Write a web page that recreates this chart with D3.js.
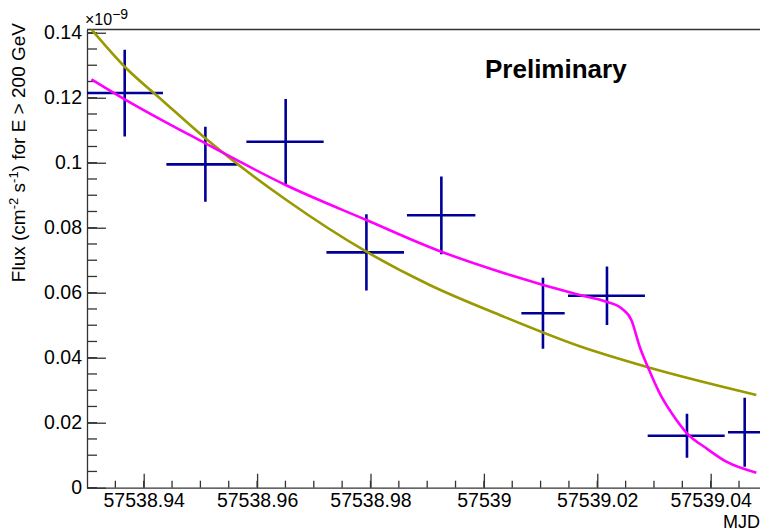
<!DOCTYPE html>
<html>
<head>
<meta charset="utf-8">
<script src="https://cdn.jsdelivr.net/npm/d3@7"></script>
<style>
  html, body { margin: 0; padding: 0; background: #fff; }
  svg { display: block; }
  text { font-family: "Liberation Sans", Arial, Helvetica, sans-serif; fill: #000; }
</style>
</head>
<body>
<svg id="chart" width="760" height="531"></svg>
<script>
// ---- data ----
const mjd        = [57538.93665, 57538.95088, 57538.96504, 57538.97928, 57538.99250, 57539.01042, 57539.02171, 57539.03582, 57539.04600];
const mjdErrLow  = [0.00675, 0.00688, 0.00693, 0.00705, 0.00607, 0.00381, 0.00688, 0.00693, 0.00295];
const mjdErrHigh = [0.00675, 0.00564, 0.00670, 0.00663, 0.00600, 0.00383, 0.00670, 0.00665, 0.00300];
const flux       = [0.12145, 0.09951, 0.10646, 0.07243, 0.08382, 0.05366, 0.05908, 0.01600, 0.01705];
const fluxErr    = [0.01334, 0.01154, 0.01318, 0.01175, 0.01195, 0.01092, 0.00902, 0.00677, 0.01062];

// olive fit curve
const oliveX = [57538.93078, 57538.93665, 57538.94335, 57538.95088, 57538.96517, 57538.97928, 57538.99044, 57539.00279, 57539.01690, 57539.02894, 57539.04806];
const oliveY = [0.14105, 0.12954, 0.11910, 0.10751, 0.08852, 0.07262, 0.06237, 0.05314, 0.04351, 0.03705, 0.02852];

// magenta fit curve
const magX = [57538.93078, 57538.93665, 57538.95088, 57538.96504, 57538.97928, 57538.99250, 57539.00279, 57539.01690, 57539.02161, 57539.02425, 57539.02601, 57539.02748, 57539.02894, 57539.03101, 57539.03335, 57539.03582, 57539.03924, 57539.04277, 57539.04806];
const magY = [0.12566, 0.11951, 0.10597, 0.09314, 0.08237, 0.07262, 0.06646, 0.05929, 0.05723, 0.05520, 0.05160, 0.04338, 0.03705, 0.02905, 0.02237, 0.01674, 0.01212, 0.00800, 0.00462];

const xTickValues = [57538.94, 57538.96, 57538.98, 57539.00, 57539.02, 57539.04];
const xTickLabels = ["57538.94", "57538.96", "57538.98", "57539", "57539.02", "57539.04"];
const yTickValues = [0, 0.02, 0.04, 0.06, 0.08, 0.10, 0.12, 0.14];
const yTickLabels = ["0", "0.02", "0.04", "0.06", "0.08", "0.1", "0.12", "0.14"];
const xDomain = [57538.93, 57539.0487];
const yDomain = [0, 0.141];

// ---- layout ----
const svg = d3.select("#chart");
const L = 87, R = 760, T = 29.5, B = 487.7;

const x = d3.scaleLinear().domain(xDomain).range([L, R]);
const y = d3.scaleLinear().domain(yDomain).range([B, T]);

svg.append("defs").append("clipPath").attr("id", "clip")
  .append("rect").attr("x", L).attr("y", T).attr("width", R - L).attr("height", B - T);

const axisColor = "#333";

// minor ticks
const xMinor = d3.range(0, 25).map(i => 57538.93 + i * 0.005).filter(v => v > xDomain[0] + 1e-6 && v < xDomain[1]);
const yMinor = d3.range(0, 29).map(i => i * 0.005).filter(v => v <= yDomain[1]);

// x axis
const xAxis = d3.axisBottom(x).tickValues(xTickValues).tickFormat((d, i) => xTickLabels[i]).tickSizeInner(-14).tickSizeOuter(0).tickPadding(5);
const gx = svg.append("g").attr("transform", `translate(0,${B})`).call(xAxis);
gx.select(".domain").attr("stroke", axisColor).attr("stroke-width", 1.3);
gx.selectAll(".tick line").attr("stroke", axisColor).attr("stroke-width", 1.3);
gx.selectAll(".tick text").attr("font-size", 19.5).attr("font-family", "Liberation Sans, Arial, sans-serif").attr("fill", "#000");
gx.selectAll(".minor").data(xMinor).enter().append("line")
  .attr("x1", d => x(d)).attr("x2", d => x(d)).attr("y1", 0).attr("y2", -7)
  .attr("stroke", axisColor).attr("stroke-width", 1.3);

// y axis
const yAxis = d3.axisLeft(y).tickValues(yTickValues).tickFormat((d, i) => yTickLabels[i]).tickSizeInner(-19).tickSizeOuter(0).tickPadding(5);
const gy = svg.append("g").attr("transform", `translate(${L},0)`).call(yAxis);
gy.select(".domain").attr("stroke", axisColor).attr("stroke-width", 1.3);
gy.selectAll(".tick line").attr("stroke", axisColor).attr("stroke-width", 1.3);
gy.selectAll(".tick text").attr("font-size", 19.5).attr("font-family", "Liberation Sans, Arial, sans-serif").attr("fill", "#000");
gy.selectAll(".minor").data(yMinor).enter().append("line")
  .attr("x1", 0).attr("x2", 10).attr("y1", d => y(d)).attr("y2", d => y(d))
  .attr("stroke", axisColor).attr("stroke-width", 1.3);

// top frame line
svg.append("line").attr("x1", L).attr("x2", R).attr("y1", T).attr("y2", T)
  .attr("stroke", axisColor).attr("stroke-width", 1.3);

// exponent label
const ex = svg.append("text").attr("x", 85).attr("y", 25).attr("font-size", 16);
ex.append("tspan").text("×10");
ex.append("tspan").attr("font-size", 14).attr("dy", -6).text("−9");

// axis titles
svg.append("text").attr("x", 760).attr("y", 528).attr("text-anchor", "end").attr("font-size", 18).text("MJD");

const yt = svg.append("text")
  .attr("transform", `translate(25,23) rotate(-90)`)
  .attr("text-anchor", "end").attr("font-size", 19);
yt.append("tspan").text("Flux (cm");
yt.append("tspan").attr("font-size", 13).attr("dy", -7).text("-2");
yt.append("tspan").attr("dy", 7).text(" s");
yt.append("tspan").attr("font-size", 13).attr("dy", -7).text("-1");
yt.append("tspan").attr("dy", 7).text(") for E > 200 GeV");

// Preliminary
svg.append("text").attr("x", 485).attr("y", 78).attr("font-size", 26).attr("font-weight", "bold").text("Preliminary");

// plot
const plot = svg.append("g").attr("clip-path", "url(#clip)");
const pts = mjd.map((m, i) => ({ m, f: flux[i], el: mjdErrLow[i], eh: mjdErrHigh[i], fe: fluxErr[i] }));
const navy = "#000099";
const cross = plot.selectAll(".pt").data(pts).enter().append("g");
cross.append("line").attr("x1", d => x(d.m - d.el)).attr("x2", d => x(d.m + d.eh))
  .attr("y1", d => y(d.f)).attr("y2", d => y(d.f)).attr("stroke", navy).attr("stroke-width", 2.6);
cross.append("line").attr("x1", d => x(d.m)).attr("x2", d => x(d.m))
  .attr("y1", d => y(d.f - d.fe)).attr("y2", d => y(d.f + d.fe)).attr("stroke", navy).attr("stroke-width", 2.6);

const line = d3.line().x(d => x(d[0])).y(d => y(d[1])).curve(d3.curveMonotoneX);
plot.append("path").datum(oliveX.map((v, i) => [v, oliveY[i]]))
  .attr("d", line).attr("fill", "none").attr("stroke", "#999900").attr("stroke-width", 2.6);
plot.append("path").datum(magX.map((v, i) => [v, magY[i]]))
  .attr("d", line).attr("fill", "none").attr("stroke", "#ff00ff").attr("stroke-width", 2.6);
</script>
</body>
</html>
